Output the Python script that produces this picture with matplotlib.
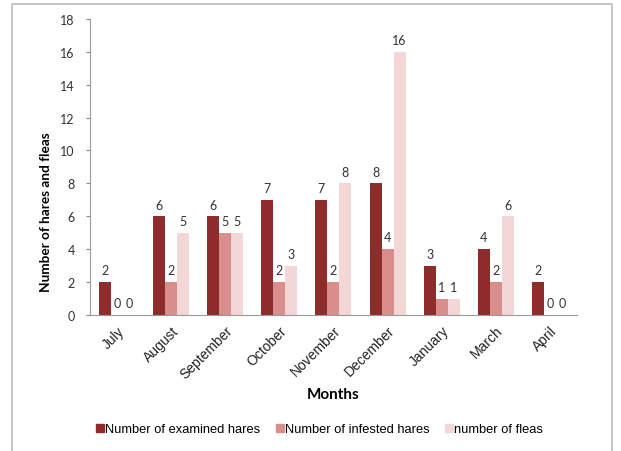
import numpy as np
import matplotlib.pyplot as plt
from matplotlib.lines import Line2D

months = ['July', 'August', 'September', 'October', 'November',
          'December', 'January', 'March', 'April']
examined = [2, 6, 6, 7, 7, 8, 3, 4, 2]
infested = [0, 2, 5, 2, 2, 4, 1, 2, 0]
fleas = [0, 5, 5, 3, 8, 16, 1, 6, 0]

series = [
    ('Number of examined hares', examined, '#8E2B2B'),
    ('Number of infested hares', infested, '#D98E8E'),
    ('number of fleas', fleas, '#F3D6D6'),
]

plt.rcParams['font.family'] = ['Lato', 'DejaVu Sans']
arial = ['Liberation Sans', 'DejaVu Sans']

fig = plt.figure(figsize=(6.21, 4.52), dpi=100)
ax = fig.add_axes([0.145, 0.301, 0.784, 0.655])

x = np.arange(len(months))
w = 0.222
for i, (name, vals, col) in enumerate(series):
    pos = x + (i - 1) * w
    ax.bar(pos, vals, width=w, color=col, label=name)
    for p, v in zip(pos, vals):
        ax.text(p, v + 0.35, str(v), ha='center', va='bottom',
                fontsize=9, color='#333333')

ax.set_xlim(-0.5, len(months) - 0.5)
ax.set_ylim(0, 18)
ax.set_yticks(range(0, 19, 2))
ax.set_xticks(x)
ax.set_xticklabels(months, rotation=45, ha='right', rotation_mode='anchor',
                   fontsize=10, color='#222222', family=arial)
ax.tick_params(axis='x', length=0, pad=6)
ax.tick_params(axis='y', length=3, labelsize=9, colors='#888888',
               labelcolor='#333333', pad=8)
for s in ['top', 'right']:
    ax.spines[s].set_visible(False)
for s in ['left', 'bottom']:
    ax.spines[s].set_color('#999999')

ax.set_ylabel('Number of hares and fleas', fontsize=9.8, fontweight='bold')
ax.yaxis.set_label_coords(-0.078, 0.35)
ax.set_xlabel('Months', fontsize=11, fontweight='bold', labelpad=4)

handles = [Line2D([], [], marker='s', linestyle='', markersize=6,
                  color=col, label=name) for name, _, col in series]
fig.legend(handles=handles, loc='center', bbox_to_anchor=(0.515, 0.048),
           ncol=3, frameon=False, handlelength=0.6, handletextpad=0.1,
           columnspacing=1.2, prop={'family': arial, 'size': 9.3})

# outer frame
fig.add_artist(Line2D([0.019, 0.019, 0.986, 0.986], [0.0, 0.989, 0.989, 0.0],
                      transform=fig.transFigure, color='#bbbbbb', lw=1.2))

fig.savefig('out.png', dpi=100)
